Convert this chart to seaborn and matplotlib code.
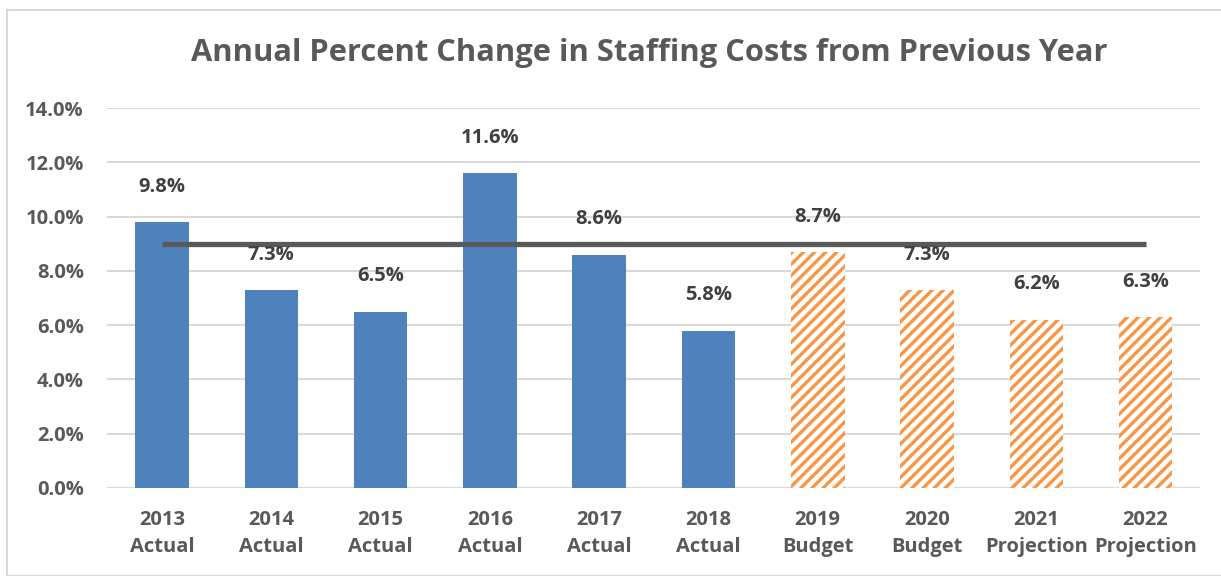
import matplotlib
matplotlib.use('Agg')
import matplotlib.pyplot as plt
import seaborn as sns
import pandas as pd
from matplotlib.patches import Rectangle

# chart data
years = ['2013', '2014', '2015', '2016', '2017', '2018', '2019', '2020', '2021', '2022']
kinds = ['Actual', 'Actual', 'Actual', 'Actual', 'Actual', 'Actual',
         'Budget', 'Budget', 'Projection', 'Projection']
pct_change = [9.8, 7.3, 6.5, 11.6, 8.6, 5.8, 8.7, 7.3, 6.2, 6.3]
target = 9.0
yticks = [0, 2, 4, 6, 8, 10, 12, 14]

df = pd.DataFrame({'label': [y + '\n' + k for y, k in zip(years, kinds)],
                   'kind': kinds, 'value': pct_change})

sns.set_style('white')
plt.rcParams['font.family'] = ['Open Sans', 'DejaVu Sans']
plt.rcParams['hatch.linewidth'] = 2.4

fig = plt.figure(figsize=(12.21, 5.76), dpi=100)
ax = fig.add_axes([0.088, 0.1528, 0.895, 0.6597])

blue = '#4F81BD'
orange = '#F79646'
sns.barplot(data=df, x='label', y='value', color=blue, width=0.49,
            saturation=1, ax=ax, zorder=2)

for patch, kind in zip(ax.patches, df['kind']):
    patch.set_linewidth(0)
    if kind != 'Actual':
        patch.set_facecolor('white')
        patch.set_edgecolor(orange)
        patch.set_hatch('///')

# target line
ax.plot([0, len(years) - 1], [target, target], color='#595959', lw=3.8,
        solid_capstyle='butt', zorder=3)

# value labels
for i, v in enumerate(pct_change):
    ax.text(i, v + 1.3, f'{v:.1f}%', ha='center', va='center', fontsize=14.5,
            fontweight='bold', color='#404040')

ax.set_ylim(0, 14)
ax.set_xlim(-0.5, len(years) - 0.5)
ax.set_yticks(yticks)
ax.set_yticklabels([f'{t:.1f}%' for t in yticks])
ax.yaxis.grid(True, color='#D9D9D9', lw=1.5, zorder=0)
ax.set_axisbelow(True)
for s in ax.spines.values():
    s.set_visible(False)
ax.tick_params(axis='both', length=0, labelsize=14.5, labelcolor='#595959')
ax.tick_params(axis='y', pad=17)
ax.tick_params(axis='x', pad=16)
for lbl in ax.get_xticklabels() + ax.get_yticklabels():
    lbl.set_fontweight('bold')
for lbl in ax.get_xticklabels():
    lbl.set_linespacing(1.45)
ax.set_xlabel('')
ax.set_ylabel('')

fig.text(0.532, 0.908, 'Annual Percent Change in Staffing Costs from Previous Year',
         ha='center', va='center', fontsize=22.2, fontweight='bold', color='#595959')

# chart border
fig.patches.append(Rectangle((7 / 1221, 0), 1.5, 1 - 10 / 576, transform=fig.transFigure,
                             fill=False, edgecolor='#D9D9D9', lw=1.5))

fig.savefig('out.png', dpi=100)
